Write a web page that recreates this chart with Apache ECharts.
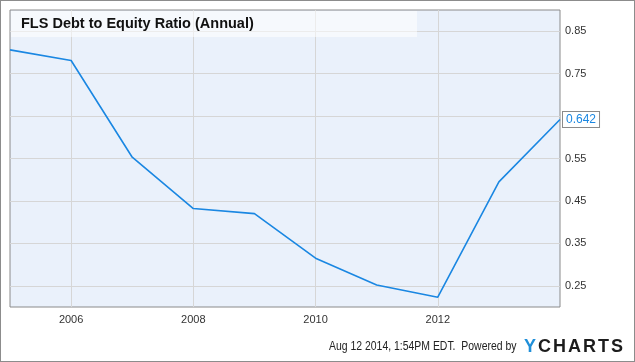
<!DOCTYPE html>
<html>
<head>
<meta charset="utf-8">
<script src="https://cdn.jsdelivr.net/npm/echarts@6/dist/echarts.min.js"></script>
<style>
html,body{margin:0;padding:0;background:#fff;}
#frame{position:absolute;left:0;top:0;width:633px;height:360px;border:1px solid #8c8c8c;}
#chart{position:absolute;left:0;top:0;width:635px;height:362px;}
</style>
</head>
<body>
<div id="frame"></div>
<div id="chart"></div>
<script>
const titleText = 'FLS Debt to Equity Ratio (Annual)';
const years = ['2005','2006','2007','2008','2009','2010','2011','2012','2013','2014'];
const ratio = [0.806, 0.781, 0.553, 0.432, 0.420, 0.315, 0.252, 0.223, 0.495, 0.642];
const xLabels = ['2006','2008','2010','2012'];
const yGrid = [0.25, 0.35, 0.45, 0.55, 0.65, 0.75, 0.85];
const yLabels = [0.25, 0.35, 0.45, 0.55, 0.75, 0.85];
const yMin = 0.2, yMax = 0.9;
const footerText = 'Aug 12 2014, 1:54PM EDT.  Powered by';
const logoLetters = ['Y','C','H','A','R','T','S'];

const chart = echarts.init(document.getElementById('chart'), null, {renderer:'canvas'});
const lineColor = '#1a87e2';
const font = 'Arial, "Liberation Sans", sans-serif';

const logo = [];
let lx = 524;
const logoW = {Y: 13, C: 14, H: 14, A: 14, R: 14, T: 12, S: 13};
logoLetters.forEach((ch, i) => {
  logo.push({
    type: 'text', x: lx, y: 338, z: 11,
    style: {text: ch, fill: i === 0 ? '#1f8fd9' : '#1c1c1c', font: 'bold 18px Arial, "Liberation Sans", sans-serif'}
  });
  lx += logoW[ch] + 1;
});

chart.setOption({
  animation: false,
  backgroundColor: 'transparent',
  grid: {
    left: 10, top: 10, right: 75, bottom: 55,
    show: true, backgroundColor: '#eaf1fb', borderColor: '#8a8a8a', borderWidth: 1,
    containLabel: false
  },
  xAxis: {
    type: 'category',
    data: years,
    boundaryGap: false,
    axisLine: {show: false},
    axisTick: {show: false},
    axisLabel: {
      interval: (i, v) => xLabels.includes(v),
      color: '#333', fontFamily: font, fontSize: 11, margin: 7
    },
    splitLine: {
      show: true,
      interval: (i, v) => xLabels.includes(v),
      lineStyle: {color: '#d6d6d6', width: 1}
    }
  },
  yAxis: {
    type: 'value',
    position: 'right',
    min: yMin, max: yMax,
    interval: 0.05,
    axisLine: {show: false},
    axisTick: {show: false},
    splitLine: {show: false},
    axisLabel: {
      color: '#333', fontFamily: font, fontSize: 11, margin: 5,
      formatter: v => {
        const r = Math.round(v * 100) / 100;
        return yLabels.some(t => Math.abs(t - r) < 1e-6) ? r.toFixed(2) : '';
      }
    }
  },
  series: [{
    type: 'line',
    data: ratio,
    symbol: 'none',
    lineStyle: {color: lineColor, width: 1.6},
    z: 5,
    endLabel: {
      show: true,
      formatter: p => String(p.value),
      color: lineColor,
      fontFamily: font, fontSize: 12,
      backgroundColor: '#fff',
      borderColor: '#8a8a8a', borderWidth: 1,
      padding: [2, 3, 1, 3],
      distance: 3
    },
    markLine: {
      silent: true,
      symbol: 'none',
      label: {show: false},
      z: 1,
      lineStyle: {color: '#d6d6d6', width: 1, type: 'solid'},
      data: yGrid.map(t => ({yAxis: t}))
    }
  }],
  graphic: [
    {
      type: 'rect', left: 11, top: 11, z: 10,
      shape: {width: 406, height: 26},
      style: {fill: 'rgba(255,255,255,0.55)'}
    },
    {
      type: 'text', left: 21, top: 16, z: 11,
      style: {text: titleText, fill: '#111', font: 'bold 14.5px Arial, "Liberation Sans", sans-serif'}
    },
    {
      type: 'text', x: 329, y: 341, z: 11, scaleX: 0.87,
      style: {text: footerText, fill: '#222', font: '12px Arial, "Liberation Sans", sans-serif'}
    }
  ].concat(logo)
});
</script>
</body>
</html>
